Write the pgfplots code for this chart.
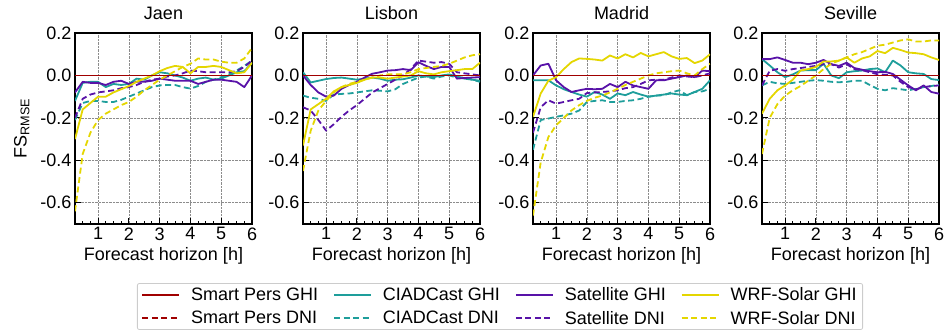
\documentclass[border=0pt]{standalone}
\usepackage{fontspec}
\setmainfont{Liberation Sans}
\usepackage{pgfplots}
\pgfplotsset{compat=1.18}
\usepackage{pgfplotstable}

\definecolor{cSP}{RGB}{160,0,0}
\definecolor{cCI}{RGB}{30,158,155}
\definecolor{cSA}{RGB}{88,18,168}
\definecolor{cWR}{RGB}{228,214,0}

% columns: x  smart-GHI smart-DNI ciad-GHI ciad-DNI sat-GHI sat-DNI wrf-GHI wrf-DNI
\pgfplotstableread{
x    sg  sd  cs      cd      ss      sdn     ws      wd
0.25 0 0 -0.12   -0.21   -0.08   -0.20   -0.30   -0.64
0.50 0 0 -0.035  -0.13   -0.03   -0.11   -0.16   -0.37
0.75 0 0 -0.03   -0.12   -0.035  -0.09   -0.13   -0.27
1.00 0 0 -0.03   -0.12   -0.035  -0.08   -0.10   -0.21
1.25 0 0 -0.055  -0.125  -0.045  -0.075  -0.10   -0.18
1.50 0 0 -0.04   -0.125  -0.03   -0.07   -0.08   -0.16
1.75 0 0 -0.045  -0.115  -0.025  -0.06   -0.065  -0.14
2.00 0 0 -0.04   -0.10   -0.04   -0.055  -0.05   -0.125
2.25 0 0 -0.015  -0.085  -0.03   -0.045  -0.03   -0.10
2.50 0 0 -0.02   -0.07   -0.03   -0.03   -0.015  -0.07
2.75 0 0 0.0     -0.055  -0.025  -0.02   0.0     -0.045
3.00 0 0 0.015   -0.047  -0.015  -0.015  0.02    -0.02
3.25 0 0 0.01    -0.045  -0.02   -0.005  0.035   0.0
3.50 0 0 0.0     -0.045  -0.025  0.0     0.045   0.02
3.75 0 0 -0.01   -0.055  -0.025  0.01    0.04    0.04
4.00 0 0 -0.025  -0.062  -0.025  0.023   0.01    0.055
4.25 0 0 -0.015  -0.05   -0.04   0.02    0.04    0.08
4.50 0 0 -0.01   -0.03   -0.03   0.015   0.04    0.075
4.75 0 0 -0.02   -0.02   -0.02   0.015   0.045   0.075
5.00 0 0 -0.015  -0.008  -0.02   0.015   0.04    0.065
5.25 0 0 0.0     0.005   -0.025  0.015   0.025   0.06
5.50 0 0 0.015   0.023   -0.03   0.02    0.01    0.06
5.75 0 0 0.02    0.045   -0.055  0.04    0.015   0.08
6.00 0 0 0.06    0.07    0.0     0.07    0.06    0.13
}\jaen

\pgfplotstableread{
x    sg  sd  cs      cd      ss      sdn     ws      wd
0.25 0 0 0.015   -0.095  0.0     -0.15   -0.33   -0.45
0.50 0 0 -0.033  -0.105  -0.045  -0.165  -0.16   -0.26
0.75 0 0 -0.025  -0.11   -0.08   -0.21   -0.135  -0.165
1.00 0 0 -0.017  -0.12   -0.10   -0.26   -0.11   -0.12
1.25 0 0 -0.012  -0.09   -0.095  -0.23   -0.075  -0.08
1.50 0 0 -0.01   -0.087  -0.063  -0.195  -0.055  -0.055
1.75 0 0 -0.015  -0.085  -0.045  -0.165  -0.045  -0.04
2.00 0 0 -0.02   -0.08   -0.03   -0.14   -0.035  -0.03
2.25 0 0 -0.015  -0.075  -0.01   -0.11   -0.02   -0.02
2.50 0 0 -0.01   -0.07   0.008   -0.08   -0.01   -0.01
2.75 0 0 -0.015  -0.072  0.015   -0.06   -0.01   0.0
3.00 0 0 -0.025  -0.075  0.023   -0.04   -0.015  0.005
3.25 0 0 -0.02   -0.065  0.025   -0.02   -0.01   0.005
3.50 0 0 -0.018  -0.04   0.03    0.0     -0.005  0.005
3.75 0 0 -0.01   -0.025  0.025   0.03    0.0     0.015
4.00 0 0 0.0     -0.01   0.062   0.07    0.02    0.03
4.25 0 0 -0.005  -0.005  0.045   0.065   0.01    0.035
4.50 0 0 -0.008  -0.015  0.03    0.06    0.005   0.04
4.75 0 0 0.0     -0.005  0.04    0.063   0.015   0.045
5.00 0 0 0.005   0.0     0.04    0.055   0.02    0.055
5.25 0 0 -0.005  -0.01   -0.015  0.015   0.025   0.07
5.50 0 0 -0.015  -0.01   -0.012  0.01    0.03    0.085
5.75 0 0 -0.02   -0.02   -0.01   0.005   0.03    0.095
6.00 0 0 -0.025  -0.03   -0.008  0.0     0.06    0.10
}\lisbon

\pgfplotstableread{
x    sg  sd  cs      cd      ss      sdn     ws      wd
0.25 0 0 -0.023  -0.35   0.0     -0.27   -0.195  -0.66
0.50 0 0 -0.023  -0.21   0.047   -0.15   -0.085  -0.41
0.75 0 0 -0.023  -0.203  0.055   -0.117  -0.025  -0.29
1.00 0 0 -0.047  -0.195  -0.023  -0.133  -0.008  -0.235
1.25 0 0 -0.065  -0.188  -0.055  -0.125  0.03    -0.20
1.50 0 0 -0.078  -0.18   -0.078  -0.117  0.063   -0.165
1.75 0 0 -0.09   -0.165  -0.07   -0.11   0.08    -0.14
2.00 0 0 -0.10   -0.125  -0.063  -0.083  0.078   -0.12
2.25 0 0 -0.078  -0.12   -0.065  -0.08   0.075   -0.105
2.50 0 0 -0.09   -0.117  -0.063  -0.078  0.07    -0.095
2.75 0 0 -0.11   -0.125  -0.04   -0.075  0.094   -0.08
3.00 0 0 -0.085  -0.125  -0.055  -0.07   0.08    -0.063
3.25 0 0 -0.093  -0.12   -0.03   -0.06   0.10    -0.045
3.50 0 0 -0.078  -0.117  -0.047  -0.055  0.085   -0.03
3.75 0 0 -0.09   -0.11   -0.055  -0.04   0.106   -0.015
4.00 0 0 -0.10   -0.10   -0.063  -0.023  0.09    0.0
4.25 0 0 -0.095  -0.095  -0.023  -0.02   0.10    0.01
4.50 0 0 -0.09   -0.093  -0.023  -0.02   0.11    0.015
4.75 0 0 -0.085  -0.08   -0.015  -0.01   0.09    0.02
5.00 0 0 -0.09   -0.07   -0.008  0.0     0.078   0.023
5.25 0 0 -0.093  -0.093  0.0     -0.005  0.082   0.01
5.50 0 0 -0.078  -0.078  -0.008  -0.008  0.058   0.0
5.75 0 0 -0.063  -0.075  0.023   0.0     0.07    0.03
6.00 0 0 -0.023  -0.063  0.02    0.01    0.10    0.055
}\madrid

\pgfplotstableread{
x    sg  sd  cs      cd      ss      sdn     ws      wd
0.25 0 0 0.077   -0.047  0.077   -0.047  -0.18   -0.37
0.50 0 0 0.047   -0.03   0.077   0.022   -0.11   -0.20
0.75 0 0 0.015   -0.037  0.085   0.03    -0.07   -0.135
1.00 0 0 -0.008  -0.04   0.073   0.022   -0.047  -0.095
1.25 0 0 0.005   -0.035  0.06    0.03    -0.02   -0.07
1.50 0 0 0.023   -0.03   0.06    0.035   0.023   -0.05
1.75 0 0 0.025   -0.025  0.053   0.04    0.03    -0.025
2.00 0 0 0.025   -0.022  0.06    0.045   0.04    0.0
2.25 0 0 0.055   -0.025  0.073   0.053   0.066   0.03
2.50 0 0 0.0     -0.03   0.053   0.053   0.066   0.055
2.75 0 0 -0.013  -0.032  0.045   0.037   0.07    0.07
3.00 0 0 0.015   -0.03   0.06    0.053   0.085   0.085
3.25 0 0 0.02    -0.025  0.035   0.03    0.06    0.10
3.50 0 0 0.023   -0.025  0.027   0.025   0.08    0.11
3.75 0 0 0.03    -0.045  0.02    0.015   0.09    0.125
4.00 0 0 0.033   -0.063  0.015   0.006   0.115   0.14
4.25 0 0 0.015   -0.07   0.017   0.003   0.105   0.145
4.50 0 0 0.07    -0.06   0.007   0.0     0.13    0.155
4.75 0 0 0.047   -0.065  -0.02   -0.03   0.12    0.165
5.00 0 0 0.015   -0.07   -0.047  -0.055  0.108   0.17
5.25 0 0 0.01    -0.063  -0.07   -0.065  0.105   0.16
5.50 0 0 0.007   -0.055  -0.047  -0.055  0.10    0.16
5.75 0 0 -0.017  -0.05   -0.078  -0.05   0.085   0.165
6.00 0 0 -0.022  -0.043  -0.086  -0.047  0.073   0.165
}\seville

\pgfplotsset{
  panel/.style={
    scale only axis, width=177pt, height=191pt,
    xmin=0.25, xmax=6, ymin=-0.7, ymax=0.2,
    xtick={1,2,3,4,5,6},
    minor xtick={0.5,0.75,1.25,1.5,1.75,2.25,2.5,2.75,3.25,3.5,3.75,4.25,4.5,4.75,5.25,5.5,5.75},
    ytick={-0.6,-0.4,-0.2,0,0.2},
    yticklabels={-0.6,-0.4,-0.2,0.0,0.2},
    /pgf/number format/assume math mode=true,
    tick align=inside, tick pos=left,
    major tick length=6pt, minor tick length=3.5pt,
    every tick/.style={black, line width=1pt},
    xmajorgrids, ymajorgrids,
    major grid style={densely dotted, black!45, line width=0.7pt},
    axis line style={line width=1.3pt},
    font=\fontsize{18}{21}\selectfont,
    tick label style={font=\fontsize{18}{21}\selectfont},
    label style={font=\fontsize{18}{21}\selectfont},
    ylabel style={yshift=4pt},
    title style={font=\fontsize{18}{21}\selectfont, yshift=4pt},
    xlabel={Forecast horizon [h]},
    every axis plot/.append style={line width=1.8pt, line join=round},
    anchor=north west,
  },
  dsh/.style={dash pattern=on 6pt off 3.5pt},
}

\newcommand{\panelplots}[1]{%
  \addplot[cCI] table[x=x,y=cs]{#1};
  \addplot[cCI,dsh] table[x=x,y=cd]{#1};
  \addplot[cSA] table[x=x,y=ss]{#1};
  \addplot[cSA,dsh] table[x=x,y=sdn]{#1};
  \addplot[cWR] table[x=x,y=ws]{#1};
  \addplot[cWR,dsh] table[x=x,y=wd]{#1};
  \addplot[cSP,dsh] table[x=x,y=sd]{#1};
  \addplot[cSP] table[x=x,y=sg]{#1};
}

\begin{document}
\begin{tikzpicture}
\path[use as bounding box] (0pt,0pt) rectangle (944pt,-332pt);

\begin{axis}[panel, at={(75pt,-33pt)}, title={Jaen}, ylabel={FS\textsubscript{RMSE}}]
\panelplots{\jaen}
\end{axis}

\begin{axis}[panel, at={(303pt,-33pt)}, title={Lisbon}]
\panelplots{\lisbon}
\end{axis}

\begin{axis}[panel, at={(533pt,-33pt)}, title={Madrid}]
\panelplots{\madrid}
\end{axis}

\begin{axis}[panel, at={(762pt,-33pt)}, title={Seville}]
\panelplots{\seville}
\end{axis}

\begin{axis}[at={(500pt,-306.5pt)}, anchor=center, hide axis, scale only axis,
  width=10pt, height=10pt, xmin=0, xmax=1, ymin=0, ymax=1,
  legend columns=4, legend cell align=left,
  legend style={at={(0.5,0.5)}, anchor=center, draw=black!20, line width=0.8pt,
    rounded corners=2pt, font=\fontsize{18}{21}\selectfont,
    /tikz/every odd column/.append style={column sep=9pt},
    /tikz/every even column/.append style={column sep=13pt},
    inner xsep=4pt, inner ysep=2pt, row sep=5pt},
  legend image code/.code={\draw[#1] (0pt,0pt) -- (37pt,0pt);}]
\addlegendimage{cSP, line width=1.8pt}
\addlegendentry{Smart Pers GHI}
\addlegendimage{cCI, line width=1.8pt}
\addlegendentry{CIADCast GHI}
\addlegendimage{cSA, line width=1.8pt}
\addlegendentry{Satellite GHI}
\addlegendimage{cWR, line width=1.8pt}
\addlegendentry{WRF-Solar GHI}
\addlegendimage{cSP, line width=1.8pt, dsh}
\addlegendentry{Smart Pers DNI}
\addlegendimage{cCI, line width=1.8pt, dsh}
\addlegendentry{CIADCast DNI}
\addlegendimage{cSA, line width=1.8pt, dsh}
\addlegendentry{Satellite DNI}
\addlegendimage{cWR, line width=1.8pt, dsh}
\addlegendentry{WRF-Solar DNI}
\end{axis}
\end{tikzpicture}
\end{document}
